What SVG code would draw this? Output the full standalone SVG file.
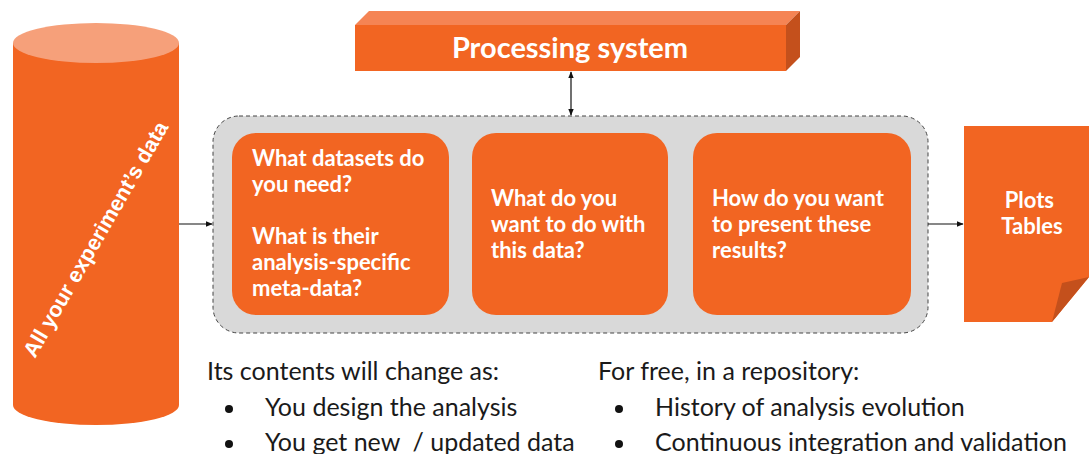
<svg xmlns="http://www.w3.org/2000/svg" width="1089" height="454" viewBox="0 0 1089 454">
  <defs>
    <marker id="arrow" viewBox="0 0 10 10" refX="9" refY="5" markerWidth="7" markerHeight="7" orient="auto-start-reverse" markerUnits="userSpaceOnUse">
      <path d="M0,1 L10,5 L0,9 Z" fill="#111"/>
    </marker>
    <style>
      .orange { fill: #F26522; }
      .box-text { font-family: Lato, "Liberation Sans", sans-serif; font-weight: bold; font-size: 22px; fill: #ffffff; }
      .body-text { font-family: Lato, "Liberation Sans", sans-serif; font-size: 25px; fill: #1a1a1a; white-space: pre; }
      .conn { stroke: #111; stroke-width: 1.2; fill: none; }
    </style>
  </defs>
  <rect width="1089" height="454" fill="#ffffff"/>

  <!-- Data store cylinder -->
  <g id="data-store">
    <path class="orange" d="M13,43 L13,405 A83,20 0 0 0 179,405 L179,43 Z"/>
    <ellipse cx="96" cy="43" rx="83" ry="20" fill="#F6A07A"/>
    <text transform="translate(97,240) rotate(-60)" text-anchor="middle" dominant-baseline="middle" font-family="'Liberation Sans', Arial, sans-serif" font-weight="bold" font-size="21.5" fill="#ffffff">All your experiment’s data</text>
  </g>

  <!-- Processing system block -->
  <g id="processing-system">
    <polygon points="355,25 369,11 800,11 786,25" fill="#F58454"/>
    <polygon points="786,25 800,11 800,57 786,71" fill="#C4501C"/>
    <rect class="orange" x="355" y="25" width="431" height="46"/>
    <text x="570" y="58" text-anchor="middle" font-family="Lato, 'Liberation Sans', sans-serif" font-weight="bold" font-size="29" fill="#ffffff">Processing system</text>
  </g>

  <!-- Analysis container -->
  <g id="analysis">
    <rect x="213" y="116" width="715" height="217" rx="26" ry="26" fill="#D9D9D9" stroke="#444" stroke-width="1" stroke-dasharray="4,3"/>
  </g>

  <g id="datasets">
    <rect class="orange" x="232" y="133" width="217" height="182" rx="24" ry="24"/>
    <text class="box-text">
      <tspan x="252" y="166">What datasets do</tspan>
      <tspan x="252" y="192">you need?</tspan>
      <tspan x="252" y="244">What is their</tspan>
      <tspan x="252" y="270">analysis-specific</tspan>
      <tspan x="252" y="296">meta-data?</tspan>
    </text>
  </g>

  <g id="processing">
    <rect class="orange" x="472" y="133" width="196" height="182" rx="24" ry="24"/>
    <text class="box-text">
      <tspan x="491" y="206">What do you</tspan>
      <tspan x="491" y="232">want to do with</tspan>
      <tspan x="491" y="258">this data?</tspan>
    </text>
  </g>

  <g id="presentation">
    <rect class="orange" x="693" y="133" width="218" height="182" rx="24" ry="24"/>
    <text class="box-text">
      <tspan x="712" y="206">How do you want</tspan>
      <tspan x="712" y="232">to present these</tspan>
      <tspan x="712" y="258">results?</tspan>
    </text>
  </g>

  <!-- Output document with folded corner -->
  <g id="outputs">
    <polygon class="orange" points="964,126 1089,126 1089,277 1052,322 964,322"/>
    <polygon points="1052,322 1062,283 1089,277" fill="#C4501C"/>
    <text class="box-text" text-anchor="middle" font-size="21">
      <tspan x="1032" y="208">Plots</tspan>
      <tspan x="1032" y="234">Tables</tspan>
    </text>
  </g>

  <!-- Connectors -->
  <g id="connectors">
    <line class="conn" x1="179" y1="224" x2="212" y2="224" marker-end="url(#arrow)"/>
    <line class="conn" x1="928" y1="224" x2="963" y2="224" marker-end="url(#arrow)"/>
    <line class="conn" x1="571" y1="72" x2="571" y2="115" marker-start="url(#arrow)" marker-end="url(#arrow)"/>
  </g>

  <!-- Notes -->
  <g id="notes-left">
    <text class="body-text" x="207" y="380">Its contents will change as:</text>
    <circle cx="229" cy="409" r="4" fill="#111"/>
    <text class="body-text" x="265" y="416">You design the analysis</text>
    <circle cx="229" cy="444" r="4" fill="#111"/>
    <text class="body-text" x="265" y="451">You get new  / updated data</text>
  </g>
  <g id="notes-right">
    <text class="body-text" x="598" y="380">For free, in a repository:</text>
    <circle cx="619" cy="409" r="4" fill="#111"/>
    <text class="body-text" x="655" y="416">History of analysis evolution</text>
    <circle cx="619" cy="444" r="4" fill="#111"/>
    <text class="body-text" x="655" y="451">Continuous integration and validation</text>
  </g>
</svg>
